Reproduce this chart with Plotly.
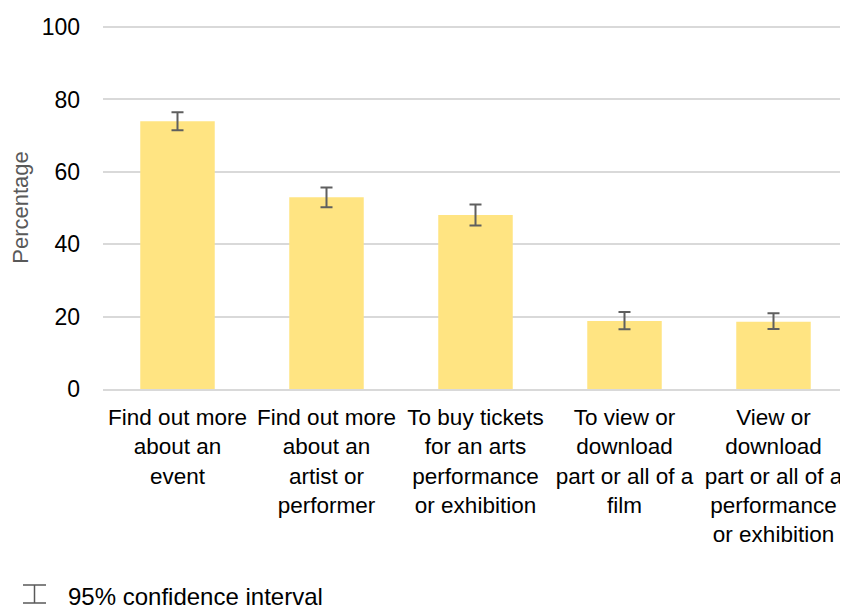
import plotly.graph_objects as go

categories = [
    "Find out more<br>about an<br>event",
    "Find out more<br>about an<br>artist or<br>performer",
    "To buy tickets<br>for an arts<br>performance<br>or exhibition",
    "To view or<br>download<br>part or all of a<br>film",
    "View or<br>download<br>part or all of a<br>performance<br>or exhibition",
]
values = [74.0, 53.0, 48.1, 18.8, 18.6]
ci_plus = [2.5, 2.7, 2.9, 2.5, 2.3]
ci_minus = [2.5, 2.8, 2.9, 2.3, 2.0]
y_ticks = [0, 20, 40, 60, 80, 100]
legend_text = "95% confidence interval"

# page body has an 8px margin; figure is sized so it fills the window exactly
OFF = 8
W, H = 848 - OFF, 606 - OFF
L, R, T = 103 - OFF, 0, 26 - OFF
B = H - (389 - OFF)
pw, ph = W - L - R, H - T - B

def px(x):  # screen x -> paper
    return (x - OFF - L) / pw

def py(y):  # screen y -> paper
    return (H - B - (y - OFF)) / ph

font_family = "Liberation Sans, Arial, sans-serif"

fig = go.Figure()
fig.add_trace(go.Bar(
    x=list(range(len(categories))),
    y=values,
    width=0.5,
    marker=dict(color="#FFE482", line=dict(width=0)),
    error_y=dict(type="data", symmetric=False, array=ci_plus, arrayminus=ci_minus,
                 color="#5f5f5f", thickness=2, width=6),
    showlegend=False,
    hoverinfo="skip",
))

fig.update_layout(
    width=W, height=H,
    margin=dict(l=L, r=R, t=T, b=B, pad=0, autoexpand=False),
    paper_bgcolor="white", plot_bgcolor="white",
    font=dict(family=font_family, size=22, color="#000000"),
    bargap=0.5,
    xaxis=dict(
        tickmode="array", tickvals=list(range(len(categories))), ticktext=categories,
        range=[-0.5, len(categories) - 0.5], automargin=False,
        showgrid=False, zeroline=False, showline=True, linecolor="#d9d9d9", linewidth=2,
        ticks="", tickangle=0, tickfont=dict(size=22.5, color="#000000"),
        ticklabelstandoff=7,
    ),
    yaxis=dict(
        range=[0, 100.3], tickvals=y_ticks, ticktext=[str(v) for v in y_ticks],
        automargin=False,
        showgrid=True, gridcolor="#d9d9d9", gridwidth=2,
        zeroline=False, showline=False, ticks="",
        tickfont=dict(size=23, color="#000000"),
        ticklabelstandoff=22,
        title=dict(text="Percentage", font=dict(size=22, color="#595959"), standoff=6),
    ),
)

# legend icon (error-bar glyph) and text
ic = "#595959"
x0, x1, xm = px(23), px(46), px(34.5)
y0, y1 = py(585), py(603)
for a, b, c, d in [(x0, y0, x1, y0), (x0, y1, x1, y1), (xm, y0, xm, y1)]:
    fig.add_shape(type="line", xref="paper", yref="paper", x0=a, y0=b, x1=c, y1=d,
                  line=dict(color=ic, width=1.5))
fig.add_annotation(text=legend_text, xref="paper", yref="paper", x=px(66), y=py(596),
                   xanchor="left", yanchor="middle", showarrow=False,
                   font=dict(size=24, color="#000000"))

fig.write_html("out.html")
